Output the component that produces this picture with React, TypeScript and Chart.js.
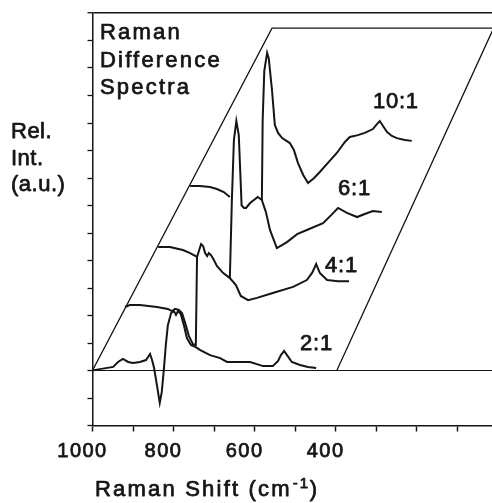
import React, { useEffect, useRef } from "react";
import { Chart, registerables } from "chart.js";

Chart.register(...registerables);

// ---- Data (Raman shift in cm-1, relative intensity in a.u.) ----
// null intensity = hidden (behind a front spectrum) part of the trace
const shift21 = [1000, 982, 949, 937, 925, 912, 900, 883, 868, 858, 853, 848, 841, 834, 829, 824, 819, 814, 806, 799, 794, 789, 782, 774, 767, 757, 745, 735, 710, 685, 668, 636, 611, 579, 555, 542, 535, 527, 520, 508, 488, 468, 448];
const int21 = [0, 0.05, 0.13, 0.31, 0.42, 0.31, 0.27, 0.31, 0.38, 0.6, 0.38, 0.09, -0.53, -1.18, -0.78, 0.02, 0.93, 1.65, 2.09, 2.16, 2.02, 2.16, 2.05, 1.62, 1.18, 0.93, 0.85, 0.75, 0.56, 0.45, 0.31, 0.31, 0.31, 0.16, 0.16, 0.35, 0.56, 0.71, 0.56, 0.31, 0.2, 0.13, 0.09];

const shift41 = [920, 908, 883, 841, 814, 804, 796, 787, 779, 772, 762, 752, 745, 742, 732, 727, 722, 717, 713, 708, 703, 693, 678, 661, 646, 634, 616, 594, 555, 505, 471, 458, 448, 439, 421, 394, 367];
const int41 = [2.31, 2.38, 2.38, 2.31, 2.24, 2.16, 2.24, 2.2, 2.09, 1.76, 1.25, 0.96, 0.93, 4.13, 4.6, 4.53, 4.27, 4.16, 4.27, 4.2, 4.09, 3.8, 3.55, 3.36, 3.11, 2.71, 2.56, 2.64, 2.82, 3.04, 3.29, 3.55, 3.87, 3.55, 3.29, 3.25, 3.25];

const shift61 = [838, 809, 777, 759, 742, 700, 661, 656, 651, 645, 639, 635, 632, 626, 621, 611, 592, 582, 572, 562, 545, 520, 495, 471, 431, 411, 394, 372, 347, 328, 308, 286];
const int61 = [4.49, 4.49, 4.38, 4.27, 4.13, null, 3.36, 6.2, 8.38, 9.07, 8.56, 7.11, 6.0, 5.91, 5.91, 6.09, 6.31, 6.2, 5.76, 5.11, 4.45, 4.67, 4.96, 5.11, 5.36, 5.65, 5.91, 5.73, 5.58, 5.69, 5.8, 5.76];

const shift101 = [759, 735, 710, 693, 676, 661, 620, 582, 580, 576, 569, 565, 557, 550, 542, 532, 513, 503, 493, 480, 468, 453, 439, 419, 397, 377, 365, 345, 328, 308, 298, 291, 283, 273, 261, 249, 229, 212];
const int101 = [6.71, 6.71, 6.67, 6.6, 6.49, 6.31, null, 6.2, 9.1, 10.9, 11.55, 11.35, 10.2, 8.93, 8.64, 8.45, 8.27, 8.02, 7.55, 7.11, 6.82, 7.0, 7.22, 7.55, 7.91, 8.31, 8.49, 8.56, 8.64, 8.78, 8.96, 9.07, 8.89, 8.67, 8.53, 8.45, 8.38, 8.35];

// oblique "waterfall" frame drawn in data units
const frameShift = [1000, 557, 10, 397];
const frameInt = [0, 12.45, 12.45, 0];

// series names and where they are written (data units)
const seriesNames = ["2:1", "4:1", "6:1", "10:1"];
const labelShift = [488, 426, 394, 308];
const labelInt = [0.75, 3.58, 6.38, 9.55];

// axis
const xLabelValues = [1000, 800, 600, 400];
const titleLines = ["Raman", "Difference", "Spectra"];
const yTitleLines = ["Rel.", "Int.", "(a.u.)"];
const xTitleText = "Raman Shift (cm";

const W = 492;
const H = 503;
const ink = "#151515";
const family = '"Liberation Sans", Arial, sans-serif';
const textStroke = 0.75;

function toPoints(xs: number[], ys: (number | null)[]) {
  return xs.map((x, i) => ({ x, y: ys[i] }));
}

const figureText = {
  id: "figureText",
  beforeDraw(chart: any) {
    chart.ctx.letterSpacing = "1.5px";
  },
  afterDraw(chart: any) {
    const ctx = chart.ctx as CanvasRenderingContext2D & { letterSpacing: string };
    const xs = chart.scales.x;
    const ys = chart.scales.y;
    ctx.save();
    ctx.fillStyle = ink;
    ctx.strokeStyle = ink;
    ctx.lineWidth = textStroke;
    ctx.lineJoin = "round";
    ctx.textAlign = "left";
    ctx.textBaseline = "alphabetic";
    const put = (t: string, x: number, y: number) => {
      ctx.strokeText(t, x, y);
      ctx.fillText(t, x, y);
    };
    ctx.font = `22px ${family}`;
    ctx.letterSpacing = "2.2px";
    titleLines.forEach((t, i) => put(t, 100, 39 + i * 27.5));
    ctx.letterSpacing = "0.5px";
    yTitleLines.forEach((t, i) => put(t, 11, 138 + i * 26.6));
    ctx.letterSpacing = "0.8px";
    seriesNames.forEach((n, i) =>
      put(n, xs.getPixelForValue(labelShift[i]), ys.getPixelForValue(labelInt[i]))
    );
    // x-axis title with superscript
    ctx.letterSpacing = "2.2px";
    const base = 496;
    let cx = 95;
    put(xTitleText, cx, base);
    cx += ctx.measureText(xTitleText).width;
    ctx.font = `15px ${family}`;
    ctx.letterSpacing = "0px";
    put("-", cx + 1, base - 8);
    put("1", cx + 8, base - 8);
    ctx.font = `22px ${family}`;
    put(")", cx + 18, base);
    ctx.restore();
  },
};

export default function App() {
  const ref = useRef<HTMLCanvasElement>(null);
  useEffect(() => {
    const canvas = ref.current;
    if (!canvas) return;
    const spectrum = (xs: number[], ys: (number | null)[], w = 2) => ({
      data: toPoints(xs, ys),
      showLine: true,
      borderColor: ink,
      backgroundColor: ink,
      borderWidth: w,
      pointRadius: 0,
      tension: 0,
      spanGaps: false,
      fill: false,
    });
    const chart = new Chart(canvas, {
      type: "scatter",
      data: {
        datasets: [
          spectrum(shift21, int21),
          spectrum(shift41, int41),
          spectrum(shift61, int61),
          spectrum(shift101, int101),
          spectrum(frameShift, frameInt, 1.3),
        ],
      },
      options: {
        responsive: false,
        maintainAspectRatio: false,
        animation: false,
        devicePixelRatio: 1,
        events: [],
        layout: { padding: { top: 13, left: 0, right: 0, bottom: 0 } },
        plugins: {
          legend: { display: false },
          tooltip: { enabled: false },
          title: { display: false },
        },
        scales: {
          x: {
            type: "linear",
            reverse: true,
            min: 14,
            max: 1000,
            position: "bottom",
            afterFit: (s: any) => {
              s.height = H - 425.5;
            },
            grid: {
              drawOnChartArea: false,
              drawTicks: true,
              tickLength: 6,
              tickColor: ink,
              tickWidth: 1.5,
            },
            border: { display: true, color: ink, width: 1.5 },
            ticks: {
              stepSize: 100,
              includeBounds: false,
              autoSkip: false,
              maxRotation: 0,
              minRotation: 0,
              padding: 8,
              labelOffset: -10,
              color: ink,
              textStrokeColor: ink,
              textStrokeWidth: textStroke,
              font: { size: 20, family },
              callback: (v: any) => (xLabelValues.includes(Number(v)) ? String(v) : ""),
            },
          },
          y: {
            type: "linear",
            min: -2,
            max: 13,
            position: "left",
            afterFit: (s: any) => {
              s.width = 92.5;
            },
            grid: {
              drawOnChartArea: true,
              drawTicks: true,
              tickLength: 5,
              tickColor: ink,
              tickWidth: 1.3,
              color: (c: any) =>
                c.tick && (c.tick.value === 0 || c.tick.value === 13) ? ink : "rgba(0,0,0,0)",
              lineWidth: (c: any) => (c.tick && c.tick.value === 13 ? 1.5 : 1),
            },
            border: { display: true, color: ink, width: 1.5 },
            ticks: { display: false, stepSize: 1, includeBounds: false },
          },
        },
      },
      plugins: [figureText],
    } as any);
    return () => chart.destroy();
  }, []);
  return (
    <div style={{ position: "fixed", left: 0, top: 0, width: W, height: H, background: "#fff" }}>
      <canvas ref={ref} width={W} height={H} style={{ display: "block", width: W, height: H }} />
    </div>
  );
}
